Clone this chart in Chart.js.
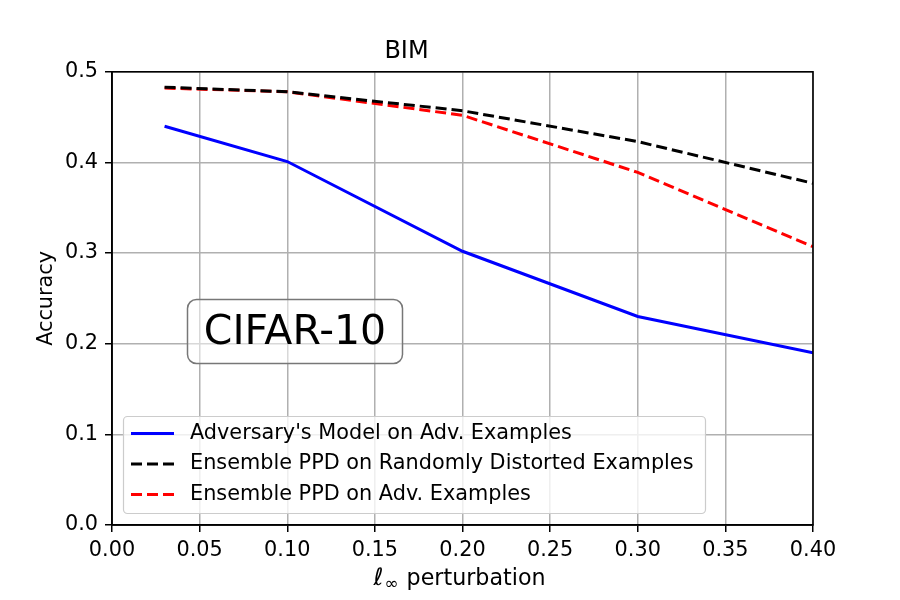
<!DOCTYPE html>
<html>
<head>
<meta charset="utf-8">
<script src="https://cdn.jsdelivr.net/npm/chart.js@4/dist/chart.umd.min.js"></script>
<style>
  html, body { margin: 0; padding: 0; background: #fff; }
  #wrap { width: 900px; height: 600px; }
</style>
</head>
<body>
<div id="wrap"><canvas id="c" width="900" height="600"></canvas></div>
<script>
// perturbation sizes (x) and accuracy per curve
const epsValues = [0.03, 0.1, 0.2, 0.3, 0.4];
const advModel = [0.440, 0.401, 0.302, 0.230, 0.190];
const ppdRandom = [0.483, 0.478, 0.457, 0.423, 0.377];
const ppdAdv = [0.482, 0.478, 0.452, 0.389, 0.307];
const seriesNames = [
  "Adversary's Model on Adv. Examples",
  "Ensemble PPD on Randomly Distorted Examples",
  "Ensemble PPD on Adv. Examples"
];
const xTicks = [0, 0.05, 0.1, 0.15, 0.2, 0.25, 0.3, 0.35, 0.4];
const yTicks = [0, 0.1, 0.2, 0.3, 0.4, 0.5];

const FONT = "'DejaVu Sans', 'Liberation Sans', sans-serif";

function toPoints(ys) {
  return ys.map((y, i) => ({ x: epsValues[i], y: y }));
}

// frame, CIFAR-10 label, legend and x-axis label
const decorPlugin = {
  id: 'decor',
  afterDatasetsDraw(chart) {
    const ctx = chart.ctx;
    const a = chart.chartArea;
    ctx.save();

    // top + right spines
    ctx.strokeStyle = '#000';
    ctx.lineWidth = 1.6;
    ctx.strokeRect(a.left, a.top, a.right - a.left, a.bottom - a.top);

    // CIFAR-10 box
    ctx.beginPath();
    ctx.roundRect(187.5, 299.5, 215, 64, 9);
    ctx.fillStyle = 'rgba(255,255,255,0.5)';
    ctx.fill();
    ctx.strokeStyle = '#777';
    ctx.lineWidth = 1.5;
    ctx.stroke();
    ctx.fillStyle = '#000';
    ctx.font = '41px ' + FONT;
    ctx.textAlign = 'center';
    ctx.textBaseline = 'alphabetic';
    ctx.fillText('CIFAR-10', 295, 344);

    // legend
    ctx.beginPath();
    ctx.roundRect(123.5, 416.5, 582, 97, 4);
    ctx.fillStyle = 'rgba(255,255,255,0.8)';
    ctx.fill();
    ctx.strokeStyle = '#cccccc';
    ctx.lineWidth = 1.2;
    ctx.stroke();
    const rows = [433.5, 464, 494.5];
    chart.data.datasets.forEach((ds, i) => {
      ctx.beginPath();
      ctx.setLineDash(ds.borderDash || []);
      ctx.strokeStyle = ds.borderColor;
      ctx.lineWidth = ds.borderWidth;
      ctx.moveTo(131, rows[i]);
      ctx.lineTo(174, rows[i]);
      ctx.stroke();
      ctx.setLineDash([]);
      ctx.fillStyle = '#000';
      ctx.font = '20.8px ' + FONT;
      ctx.textAlign = 'left';
      ctx.textBaseline = 'middle';
      ctx.fillText(ds.label, 190, rows[i]);
    });

    // x axis label with subscript
    const mid = (a.left + a.right) / 2;
    const base = 585;
    ctx.textBaseline = 'alphabetic';
    ctx.textAlign = 'left';
    ctx.font = 'italic 24px ' + FONT;
    const w1 = ctx.measureText('ℓ').width;
    ctx.font = '17px ' + FONT;
    const w2 = ctx.measureText('∞').width;
    ctx.font = '22.2px ' + FONT;
    const w3 = ctx.measureText(' perturbation').width;
    let x = mid - (w1 + w2 + w3 + 2) / 2 - 3;
    ctx.fillStyle = '#000';
    ctx.font = 'italic 24px ' + FONT;
    ctx.fillText('ℓ', x, base);
    x += w1 + 1;
    ctx.font = '17px ' + FONT;
    ctx.fillText('∞', x, base + 4);
    x += w2 + 1;
    ctx.font = '22.2px ' + FONT;
    ctx.fillText(' perturbation', x, base);

    ctx.restore();
  }
};

new Chart(document.getElementById('c'), {
  type: 'line',
  data: {
    datasets: [
      {
        label: seriesNames[0],
        data: toPoints(advModel),
        borderColor: '#0000ff',
        borderWidth: 3,
        pointRadius: 0,
        tension: 0
      },
      {
        label: seriesNames[1],
        data: toPoints(ppdRandom),
        borderColor: '#000000',
        borderWidth: 3,
        borderDash: [11, 5],
        pointRadius: 0,
        tension: 0
      },
      {
        label: seriesNames[2],
        data: toPoints(ppdAdv),
        borderColor: '#ff0000',
        borderWidth: 3,
        borderDash: [11, 5],
        pointRadius: 0,
        tension: 0
      }
    ]
  },
  options: {
    responsive: false,
    animation: false,
    devicePixelRatio: 1,
    layout: { padding: { top: 0, right: 87, bottom: 0, left: 0 } },
    plugins: {
      legend: { display: false },
      tooltip: { enabled: false },
      title: {
        display: true,
        text: 'BIM',
        color: '#000',
        font: { family: FONT, size: 24, weight: 'normal' },
        padding: { top: 37, bottom: 6 }
      }
    },
    scales: {
      x: {
        type: 'linear',
        min: 0,
        max: 0.4,
        afterBuildTicks: (s) => { s.ticks = xTicks.map(v => ({ value: v })); },
        afterFit: (s) => { s.height = 75; },
        ticks: {
          color: '#000',
          font: { family: FONT, size: 20.8 },
          padding: 6,
          maxRotation: 0,
          autoSkip: false,
          callback: (v) => Number(v).toFixed(2)
        },
        grid: {
          color: '#b0b0b0',
          lineWidth: 1.5,
          tickColor: '#000',
          tickLength: 7,
          tickWidth: 1.5
        },
        border: { color: '#000', width: 1.6 }
      },
      y: {
        type: 'linear',
        min: 0,
        max: 0.5,
        afterBuildTicks: (s) => { s.ticks = yTicks.map(v => ({ value: v })); },
        afterFit: (s) => { s.width = 112; },
        ticks: {
          color: '#000',
          font: { family: FONT, size: 20.8 },
          padding: 7,
          autoSkip: false,
          callback: (v) => Number(v).toFixed(1)
        },
        title: {
          display: true,
          text: 'Accuracy',
          color: '#000',
          font: { family: FONT, size: 20.8 },
          padding: { top: 34, bottom: 0 }
        },
        grid: {
          color: '#b0b0b0',
          lineWidth: 1.5,
          tickColor: '#000',
          tickLength: 7,
          tickWidth: 1.5
        },
        border: { color: '#000', width: 1.6 }
      }
    }
  },
  plugins: [decorPlugin]
});
</script>
</body>
</html>
